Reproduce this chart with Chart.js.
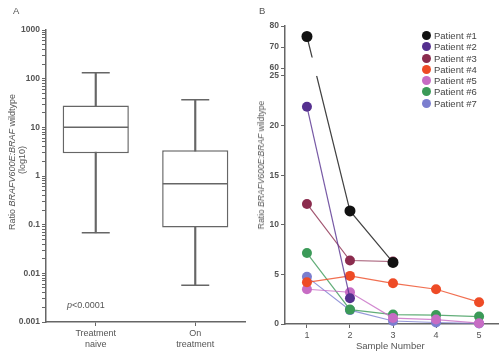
<!DOCTYPE html>
<html>
<head>
<meta charset="utf-8">
<script src="https://cdn.jsdelivr.net/npm/chart.js@4.4.1/dist/chart.umd.min.js"></script>
<style>
  body { margin: 0; background: #fff; font-family: "Liberation Sans", Arial, sans-serif; color: #555; }
  #wrap { position: relative; width: 500px; height: 358px; overflow: hidden; }
  canvas { position: absolute; top: 0; }
  .txt { position: absolute; white-space: nowrap; font-size: 9px; line-height: 10px; color: #555; }
  .rot { transform-origin: center center; transform: translate(-50%, -50%) rotate(-90deg); text-align: center; }
  #legend { position: absolute; left: 422px; top: 30px; font-size: 9.5px; color: #444; }
  #legend div { height: 11.3px; line-height: 11.3px; white-space: nowrap; }
  #legend span.dot { display: inline-block; width: 9px; height: 9px; border-radius: 50%; vertical-align: -1px; margin-right: 3px; }
</style>
</head>
<body>
<div id="wrap">
  <canvas id="chartA" width="250" height="358" style="left:0"></canvas>
  <canvas id="chartB" width="255" height="358" style="left:245px"></canvas>

  <div class="txt" style="left:13px;top:6px;font-size:9.5px">A</div>
  <div class="txt" style="left:259px;top:6px;font-size:9.5px">B</div>
  <div class="txt rot" style="left:12px;top:162px">Ratio <i>BRAFV600E:BRAF</i> wildtype</div>
  <div class="txt rot" style="left:22px;top:160px">(log10)</div>
  <div class="txt" style="left:67px;top:300px"><i>p</i>&lt;0.0001</div>
  <div class="txt rot" style="left:261px;top:165px;font-size:8.5px">Ratio <i>BRAFV600E:BRAF</i> wildtype</div>
  <div class="txt" style="left:356px;top:341px;font-size:9.5px">Sample Number</div>
  <div id="legend"></div>
</div>

<script>
// panel A: box plot values (log scale)
const boxLabels = [['Treatment', 'naive'], ['On', 'treatment']];
const boxMin = [0.068, 0.0057];
const boxQ1 = [2.95, 0.087];
const boxMedian = [10, 0.69];
const boxQ3 = [28, 3.4];
const boxMax = [132, 37];

// panel B: per patient ratio over samples
const sampleNumbers = [1, 2, 3, 4, 5];
const patientNames = ['Patient #1', 'Patient #2', 'Patient #3', 'Patient #4', 'Patient #5', 'Patient #6', 'Patient #7'];
const patient1 = [75, 11.4, 6.2];
const patient2 = [21.9, 2.6];
const patient3 = [12.1, 6.4, 6.3];
const patient4 = [4.2, 4.85, 4.1, 3.5, 2.2];
const patient5 = [3.5, 3.2, 0.6, 0.45, 0.08];
const patient6 = [7.15, 1.45, 0.95, 0.9, 0.75];
const patient7 = [4.75, 1.4, 0.3, 0.15, 0.05];
const patientColors = ['#111111', '#55308f', '#8b2c4e', '#ee4b26', '#c76cc4', '#3b9a58', '#7b7ecf'];
const lowerTicks = [0, 5, 10, 15, 20, 25];
const upperTicks = [60, 70, 80];

const axisColor = '#666';
const tickFont = { family: 'Liberation Sans, Arial', size: 8.5, weight: 'bold' };

// broken y axis: 0-25 normal, 60-80 compressed just above
function brk(v) {
  return v <= 25 ? v : 25.8 + (v - 60) * 0.2117;
}

// chart.js adds label overflow padding; we size the plot by hand
function noPad(s) {
  s.paddingLeft = 0; s.paddingRight = 0; s.paddingTop = 0; s.paddingBottom = 0;
}

// ----- chart A -----
const logTicks = [];
for (let k = -3; k <= 2; k++) {
  for (let m = 1; m <= 9; m++) logTicks.push(Number((m * Math.pow(10, k)).toPrecision(1)));
}
logTicks.push(1000);

new Chart(document.getElementById('chartA'), {
  type: 'bar',
  data: {
    labels: boxLabels,
    datasets: [
      { type: 'line', data: boxMedian, showLine: false, pointStyle: 'line', pointRadius: 32.5,
        borderColor: axisColor, pointBorderWidth: 1.5, order: 1 },
      { type: 'line', data: boxMax, showLine: false, pointStyle: 'line', pointRadius: 14,
        borderColor: axisColor, pointBorderWidth: 1.5, order: 1 },
      { type: 'line', data: boxMin, showLine: false, pointStyle: 'line', pointRadius: 14,
        borderColor: axisColor, pointBorderWidth: 1.5, order: 1 },
      { data: boxQ1.map((q, i) => [q, boxQ3[i]]), backgroundColor: '#fff', borderColor: axisColor,
        borderWidth: 1.5, borderSkipped: false, barPercentage: 0.665, categoryPercentage: 1,
        grouped: false, order: 2 },
      { data: boxMin.map((q, i) => [q, boxMax[i]]), backgroundColor: axisColor, barThickness: 1.5,
        grouped: false, order: 3 }
    ]
  },
  options: {
    responsive: false,
    animation: false,
    layout: { autoPadding: false, padding: { top: 30, right: 5, left: 0, bottom: 0 } },
    plugins: { legend: { display: false }, tooltip: { enabled: false } },
    scales: {
      x: {
        offset: true,
        grid: { display: true, drawOnChartArea: false, offset: false, tickLength: 4, color: axisColor },
        border: { color: axisColor, width: 1.5 },
        ticks: { color: '#555', font: { family: 'Liberation Sans, Arial', size: 9 }, padding: 2, maxRotation: 0 },
        afterFit: s => { s.height = 36; noPad(s); }
      },
      y: {
        type: 'logarithmic',
        min: 0.001,
        max: 1000,
        grid: { display: true, drawOnChartArea: false, tickLength: 4, color: axisColor },
        border: { color: axisColor, width: 1.5 },
        afterBuildTicks: s => { s.ticks = logTicks.map(v => ({ value: v })); },
        ticks: {
          autoSkip: false,
          color: '#555',
          font: tickFont,
          padding: 2,
          callback: v => {
            const l = Math.log10(v);
            if (Math.abs(l - Math.round(l)) > 1e-6) return '';
            return l >= 0 ? String(Math.round(v)) : v.toFixed(-Math.round(l));
          }
        },
        afterFit: s => { s.width = 46; noPad(s); }
      }
    }
  }
});

// ----- chart B -----
const patients = [patient1, patient2, patient3, patient4, patient5, patient6, patient7];
const allTicks = lowerTicks.concat(upperTicks);

const breakGap = {
  id: 'breakGap',
  afterDatasetsDraw(chart) {
    const { ctx, chartArea, scales } = chart;
    const yTop = scales.y.getPixelForValue(brk(65));
    const yBot = scales.y.getPixelForValue(25);
    ctx.save();
    ctx.fillStyle = '#fff';
    ctx.fillRect(chartArea.left + 1.5, yTop, chartArea.right - chartArea.left, yBot - yTop);
    ctx.restore();
  }
};

new Chart(document.getElementById('chartB'), {
  type: 'line',
  data: {
    datasets: patients.map((vals, i) => ({
      label: patientNames[i],
      data: vals.map((v, j) => ({ x: sampleNumbers[j], y: brk(v) })),
      borderColor: patientColors[i] + 'cc',
      borderWidth: 1.2,
      backgroundColor: patientColors[i],
      pointBackgroundColor: patientColors[i],
      pointBorderColor: patientColors[i],
      pointRadius: i === 0 ? 5.5 : 5,
      pointBorderWidth: 0,
      clip: 8
    }))
  },
  options: {
    responsive: false,
    animation: false,
    layout: { autoPadding: false, padding: { top: 26, right: 2, left: 0, bottom: 0 } },
    plugins: { legend: { display: false }, tooltip: { enabled: false } },
    scales: {
      x: {
        type: 'linear',
        min: 0.49,
        max: 5.44,
        grid: { display: true, drawOnChartArea: false, tickLength: 4, color: axisColor },
        border: { color: axisColor, width: 1.5 },
        afterBuildTicks: s => { s.ticks = sampleNumbers.map(v => ({ value: v })); },
        ticks: { color: '#555', font: { family: 'Liberation Sans, Arial', size: 9 }, padding: 2 },
        afterFit: s => { s.height = 34; noPad(s); }
      },
      y: {
        min: 0,
        max: brk(80),
        grid: { display: true, drawOnChartArea: false, tickLength: 4, color: axisColor },
        border: { color: axisColor, width: 1.5 },
        afterBuildTicks: s => { s.ticks = allTicks.map(v => ({ value: brk(v) })); },
        ticks: { autoSkip: false, color: '#555', font: tickFont, padding: 2,
          callback: (v, i) => String(allTicks[i]) },
        afterFit: s => { s.width = 40; noPad(s); }
      }
    }
  },
  plugins: [breakGap]
});

// legend built from the same arrays
const legend = document.getElementById('legend');
patientNames.forEach((name, i) => {
  const row = document.createElement('div');
  row.innerHTML = '<span class="dot" style="background:' + patientColors[i] + '"></span>' + name;
  legend.appendChild(row);
});
</script>
</body>
</html>
